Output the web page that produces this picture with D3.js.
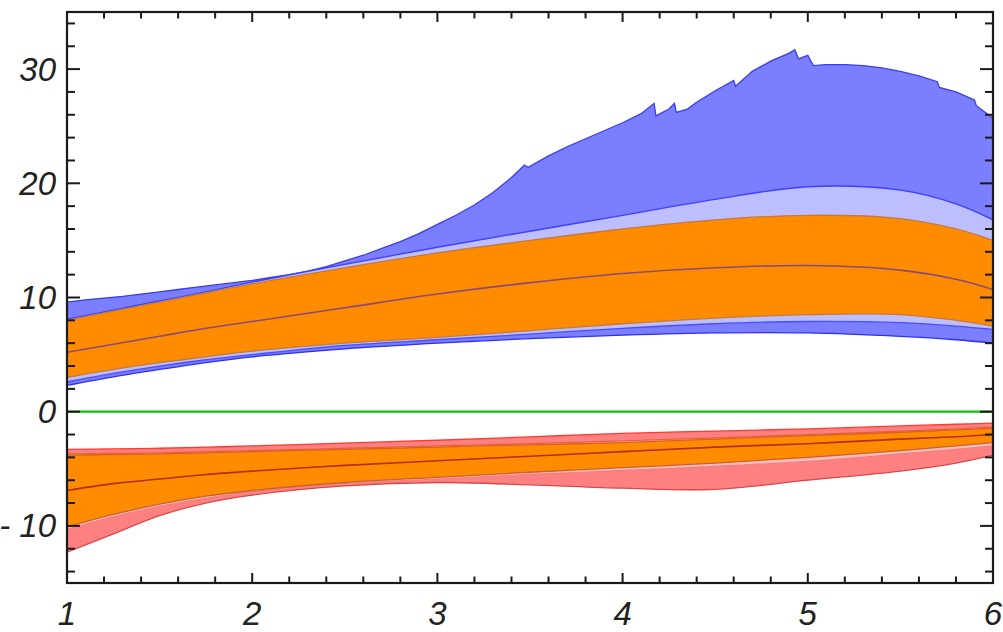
<!DOCTYPE html>
<html>
<head>
<meta charset="utf-8">
<script src="https://cdn.jsdelivr.net/npm/d3@7"></script>
<style>
  body { margin: 0; background: #fff; }
  svg { display: block; }
  .lbl { font-family: "Liberation Sans", Arial, sans-serif; font-style: italic; font-size: 33px; fill: #222; }
</style>
</head>
<body>
<svg id="chart" width="1003" height="632"></svg>
<script>
// ---- data -------------------------------------------------------------
// common x grid for the smooth quantile boundaries
const xGrid = [1, 1.25, 1.5, 1.75, 2, 2.5, 3, 3.5, 4, 4.5, 5, 5.5, 5.8, 6];

// positive branch: outer (jagged) upper envelope, own x positions
const xPeak = [1, 1.1, 1.2, 1.3, 1.4, 1.5, 1.6, 1.7, 1.8, 1.9, 2, 2.1, 2.2, 2.3, 2.4, 2.5, 2.6, 2.7, 2.8, 2.9,
               3, 3.1, 3.2, 3.3, 3.4, 3.47, 3.49, 3.6, 3.7, 3.8, 3.9, 4, 4.1, 4.17, 4.18, 4.25, 4.28, 4.29, 4.35,
               4.4, 4.5, 4.6, 4.61, 4.7, 4.8, 4.9, 4.93, 4.95, 5, 5.03, 5.1, 5.2, 5.3, 5.4, 5.5, 5.6, 5.7, 5.71,
               5.8, 5.9, 5.91, 5.95, 6];
const posOuterHigh = [9.6, 9.8, 9.95, 10.1, 10.3, 10.5, 10.7, 10.9, 11.1, 11.3, 11.5, 11.75, 12.0, 12.3, 12.7, 13.2, 13.7, 14.3, 14.9, 15.6,
                      16.4, 17.2, 18.1, 19.2, 20.5, 21.6, 21.4, 22.4, 23.2, 23.9, 24.6, 25.3, 26.1, 27.0, 25.9, 26.5, 27.0, 26.2, 26.5,
                      27.1, 28.1, 29.0, 28.5, 29.8, 30.7, 31.4, 31.7, 30.9, 31.2, 30.3, 30.4, 30.4, 30.3, 30.1, 29.8, 29.4, 28.9, 28.4,
                      28.0, 27.3, 26.8, 26.3, 25.7];

// positive branch: remaining quantile boundaries on xGrid
const posMidHigh   = [8.1, 8.9, 9.7, 10.5, 11.35, 12.9, 14.4, 15.8, 17.2, 18.6, 19.7, 19.4, 18.2, 16.8];
const posInnerHigh = [8.0, 8.8, 9.6, 10.4, 11.2, 12.6, 13.9, 15.0, 16.0, 16.8, 17.2, 16.9, 16.0, 15.0];
const posMedian    = [5.2, 5.9, 6.6, 7.3, 7.9, 9.1, 10.3, 11.3, 12.1, 12.6, 12.8, 12.4, 11.6, 10.7];
const posInnerLow  = [3.0, 3.7, 4.3, 4.8, 5.3, 6.0, 6.5, 7.1, 7.7, 8.2, 8.5, 8.5, 8.0, 7.5];
const posMidLow    = [2.6, 3.35, 4.0, 4.55, 5.0, 5.8, 6.3, 6.8, 7.3, 7.7, 7.9, 7.8, 7.5, 7.2];
const posOuterLow  = [2.3, 3.05, 3.7, 4.3, 4.8, 5.5, 6.0, 6.4, 6.7, 6.9, 6.9, 6.6, 6.3, 6.0];

// negative branch boundaries on xGrid
const negOuterHigh = [-3.3, -3.25, -3.2, -3.1, -3.0, -2.75, -2.5, -2.2, -1.9, -1.7, -1.5, -1.25, -1.1, -1.0];
const negMidHigh   = [-3.7, -3.65, -3.6, -3.5, -3.4, -3.2, -3.0, -2.8, -2.55, -2.3, -2.0, -1.7, -1.5, -1.35];
const negInnerHigh = [-3.8, -3.75, -3.7, -3.6, -3.5, -3.3, -3.1, -2.9, -2.7, -2.4, -2.1, -1.8, -1.6, -1.45];
const negMedian    = [-6.9, -6.3, -5.9, -5.5, -5.2, -4.7, -4.3, -3.9, -3.5, -3.1, -2.8, -2.4, -2.2, -2.0];
const negInnerLow  = [-10.1, -9.0, -8.1, -7.4, -6.9, -6.2, -5.75, -5.3, -4.9, -4.5, -4.0, -3.4, -3.0, -2.7];
const negMidLow    = [-10.3, -9.2, -8.3, -7.6, -7.0, -6.3, -5.9, -5.5, -5.15, -4.8, -4.35, -3.7, -3.3, -3.0];
const negOuterLow  = [-12.3, -10.7, -9.1, -8.0, -7.3, -6.5, -6.2, -6.4, -6.7, -6.8, -6.0, -5.2, -4.5, -3.8];

// axis ticks
const xMajor = [1, 2, 3, 4, 5, 6];
const yMajor = [-10, 0, 10, 20, 30];
const yLabels = ["- 10", "0", "10", "20", "30"];

// ---- layout -------------------------------------------------------------
const L = 67, R = 993, T = 12, B = 583;
const svg = d3.select("#chart");
const x = d3.scaleLinear().domain([1, 6]).range([L, R]);
const y = d3.scaleLinear().domain([-15, 35]).range([B, T]);

const pts = (xs, ys) => xs.map((v, i) => [v, ys[i]]);
const smooth = d3.line().x(d => x(d[0])).y(d => y(d[1])).curve(d3.curveCatmullRom.alpha(0.5));
const sharp  = d3.line().x(d => x(d[0])).y(d => y(d[1]));

// closed outline: upper edge left-to-right, lower edge back right-to-left
function band(top, bottom, topGen, botGen) {
  const a = topGen(top);
  const b = botGen(bottom.slice().reverse());
  return a + "L" + b.slice(1) + "Z";
}

const plot = svg.append("g");
plot.append("clipPath").attr("id", "clip").append("rect")
  .attr("x", L).attr("y", T).attr("width", R - L).attr("height", B - T);
const g = plot.append("g").attr("clip-path", "url(#clip)");

function drawBand(top, bottom, fill, edgeTop, edgeBot, topGen = smooth, botGen = smooth) {
  g.append("path").attr("d", band(top, bottom, topGen, botGen)).attr("fill", fill);
  g.append("path").attr("d", topGen(top)).attr("fill", "none").attr("stroke", edgeTop).attr("stroke-width", 1.3);
  g.append("path").attr("d", botGen(bottom)).attr("fill", "none").attr("stroke", edgeBot).attr("stroke-width", 1.3);
}

// positive branch
drawBand(pts(xPeak, posOuterHigh), pts(xGrid, posOuterLow), "#7a7eff", "#3a3ee8", "#2a2eff", sharp, smooth);
drawBand(pts(xGrid, posMidHigh), pts(xGrid, posMidLow), "#bcbeff", "#3c40ff", "#4a4eff");
drawBand(pts(xGrid, posInnerHigh), pts(xGrid, posInnerLow), "#ff8c00", "#c87838", "#c87838");
g.append("path").attr("d", smooth(pts(xGrid, posMedian))).attr("fill", "none")
  .attr("stroke", "#8a4a78").attr("stroke-width", 1.6);

// negative branch
drawBand(pts(xGrid, negOuterHigh), pts(xGrid, negOuterLow), "#ff8080", "#ff3a30", "#d84848");
drawBand(pts(xGrid, negMidHigh), pts(xGrid, negMidLow), "#ffbcbc", "#e86040", "#f08080");
drawBand(pts(xGrid, negInnerHigh), pts(xGrid, negInnerLow), "#ff8c00", "#d86020", "#c86030");
g.append("path").attr("d", smooth(pts(xGrid, negMedian))).attr("fill", "none")
  .attr("stroke", "#b03010").attr("stroke-width", 1.6);

// zero reference line
g.append("line").attr("x1", x(1)).attr("x2", x(6)).attr("y1", y(0)).attr("y2", y(0))
  .attr("stroke", "#10c010").attr("stroke-width", 2.2);

// ---- frame and ticks -------------------------------------------------------
const ink = "#1a1a1a";
const ticks = svg.append("g").attr("stroke", ink).attr("stroke-width", 2);
const xMinor = d3.range(1, 6.0001, 0.2).map(v => +v.toFixed(1));
xMinor.forEach(v => {
  const major = xMajor.includes(v);
  const len = major ? 10 : 6.5;
  ticks.append("line").attr("x1", x(v)).attr("x2", x(v)).attr("y1", B).attr("y2", B - len);
  ticks.append("line").attr("x1", x(v)).attr("x2", x(v)).attr("y1", T).attr("y2", T + len);
});
const yMinor = d3.range(-14, 34.001, 2);
yMinor.forEach(v => {
  const major = yMajor.includes(v);
  const len = major ? 13 : 8;
  ticks.append("line").attr("x1", L).attr("x2", L + len).attr("y1", y(v)).attr("y2", y(v));
  ticks.append("line").attr("x1", R).attr("x2", R - len).attr("y1", y(v)).attr("y2", y(v));
});
svg.append("rect").attr("x", L).attr("y", T).attr("width", R - L).attr("height", B - T)
  .attr("fill", "none").attr("stroke", ink).attr("stroke-width", 2.2);

// ---- labels ---------------------------------------------------------------
yMajor.forEach((v, i) => {
  svg.append("text").attr("class", "lbl").attr("x", L - 11).attr("y", y(v))
    .attr("text-anchor", "end").attr("dominant-baseline", "central").text(yLabels[i]);
});
xMajor.forEach(v => {
  svg.append("text").attr("class", "lbl").attr("x", x(v)).attr("y", 625)
    .attr("text-anchor", "middle").text(String(v));
});
</script>
</body>
</html>
